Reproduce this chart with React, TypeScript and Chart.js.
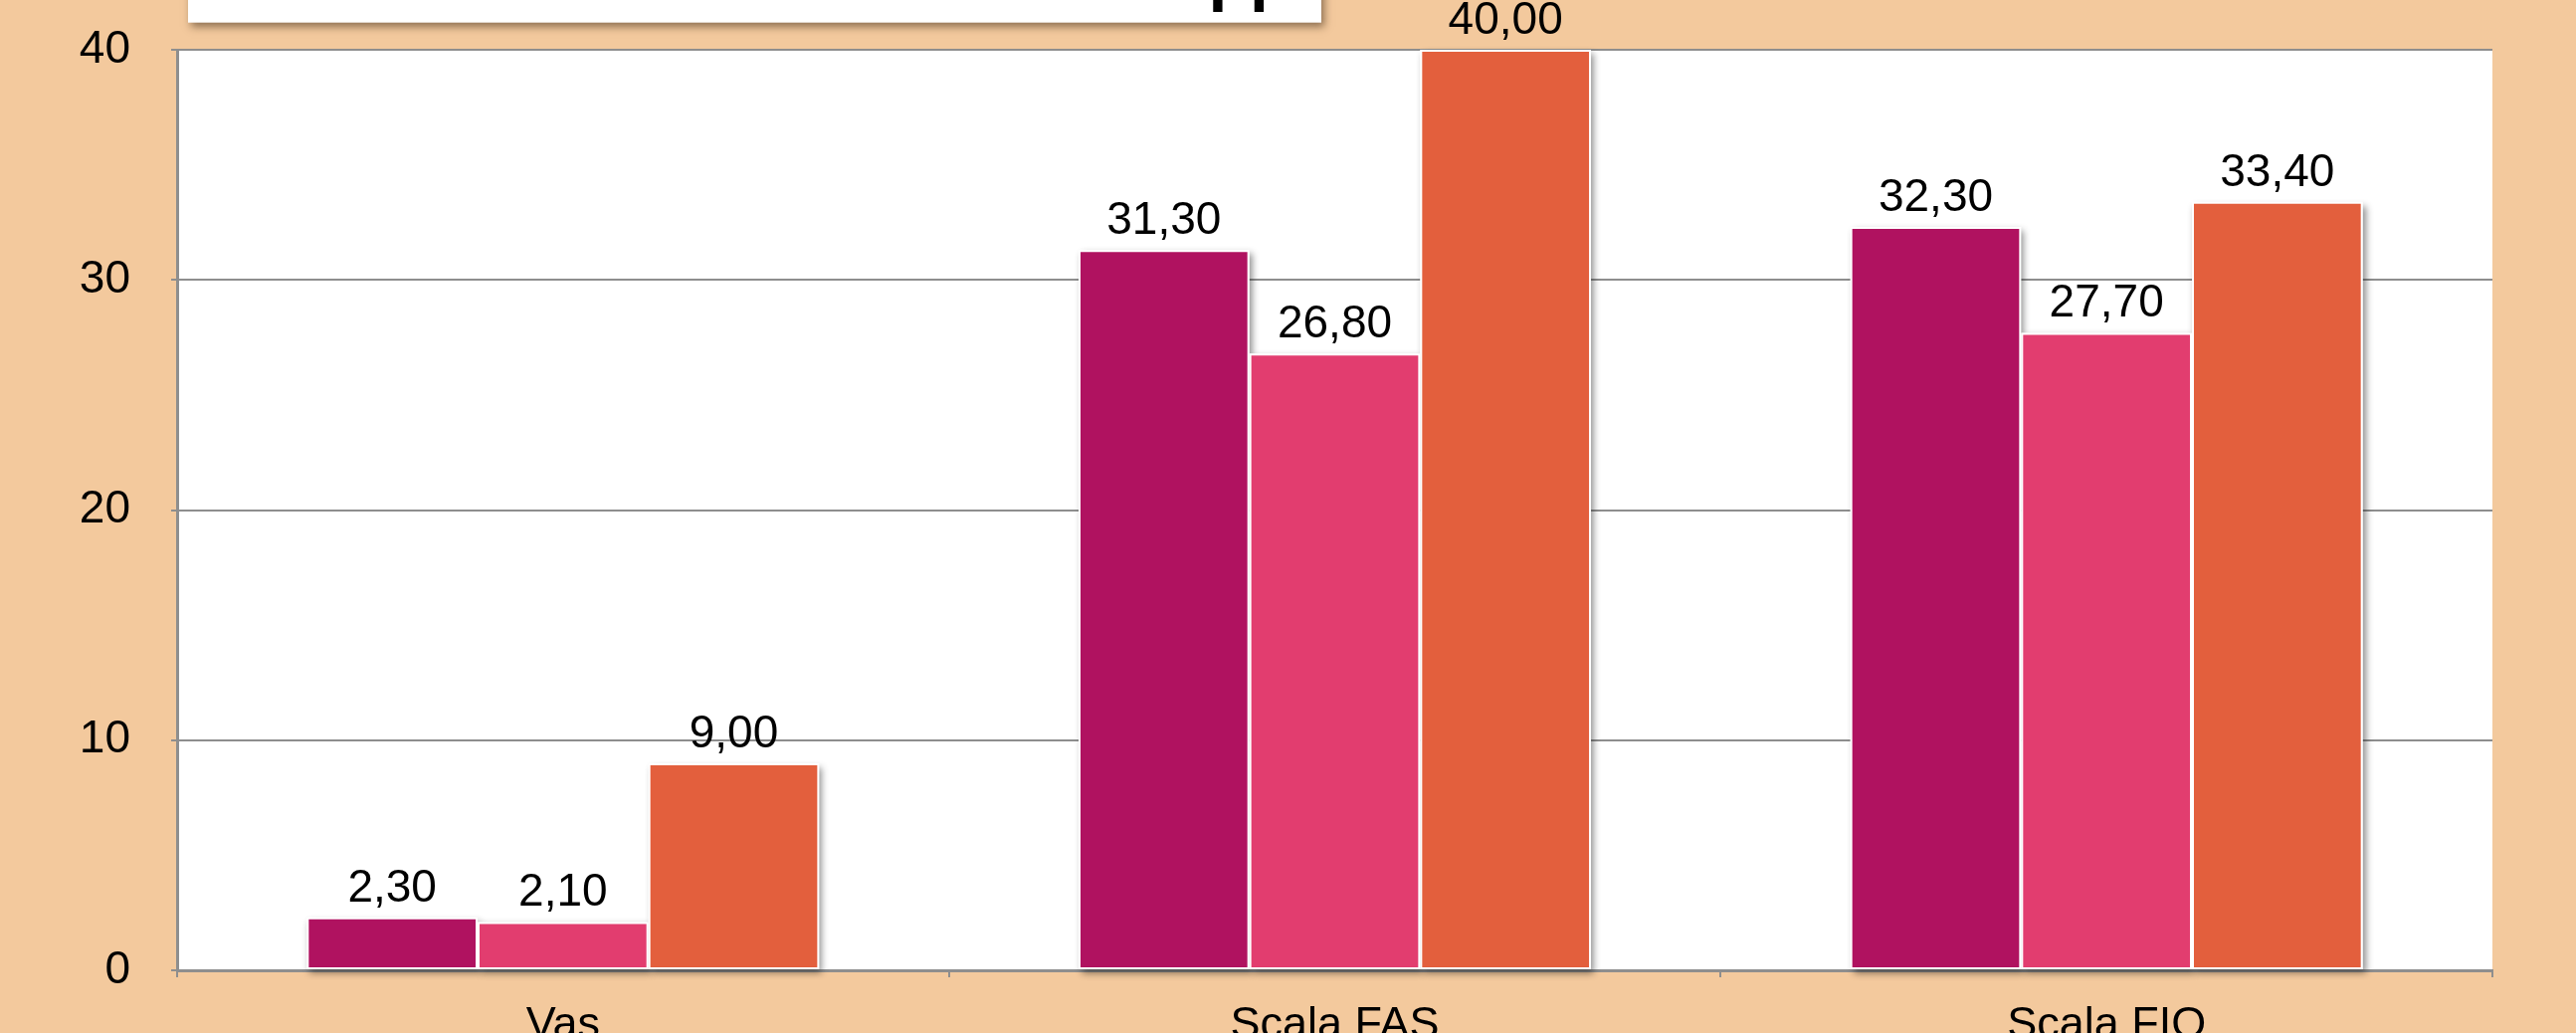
import React, { useEffect, useRef } from "react";
import { Chart, registerables } from "chart.js";

Chart.register(...registerables);

const categories = ["Vas", "Scala FAS", "Scala FIO"];
const series1 = [2.3, 31.3, 32.3];
const series2 = [2.1, 26.8, 27.7];
const series3 = [9.0, 40.0, 33.4];
const seriesNames = ["Serie 1", "Serie 2", "Serie 3"];
const seriesColors = ["#B01260", "#E23D6F", "#E35F3D"];
const yMin = 0;
const yMax = 40;
const yStep = 10;
const titleText = "Valutazione dello sviluppo";

const PEACH = "#F3C99D";
const GRID = "#8E8E8E";
const FONT = "'Liberation Sans', Arial, Helvetica, sans-serif";

// target plot area inside the 2589 x 1038 picture
const AREA = { left: 178, top: 50, right: 2505, bottom: 975 };
const CANVAS_W = 2589;
const CANVAS_H = 1100;

const fmt = (v: number) => v.toFixed(2).replace(".", ",");

const backgroundPlugin = {
  id: "bgAndTitle",
  beforeDraw(chart: any) {
    const { ctx, chartArea, width, height } = chart;
    ctx.save();
    ctx.fillStyle = PEACH;
    ctx.fillRect(0, 0, width, height);
    ctx.fillStyle = "#FFFFFF";
    ctx.fillRect(chartArea.left, chartArea.top, chartArea.right - chartArea.left, chartArea.bottom - chartArea.top);
    // title box (mostly above the visible area)
    ctx.save();
    ctx.shadowColor = "rgba(60,40,20,0.55)";
    ctx.shadowBlur = 8;
    ctx.shadowOffsetX = 3;
    ctx.shadowOffsetY = 4;
    ctx.fillStyle = "#FFFFFF";
    ctx.fillRect(189, -120, 1139, 142.7);
    ctx.restore();
    ctx.fillStyle = "#000000";
    ctx.font = "bold 68px " + FONT;
    ctx.textBaseline = "alphabetic";
    ctx.textAlign = "left";
    const prefix = titleText.slice(0, titleText.indexOf("pp"));
    const w = ctx.measureText(prefix).width;
    ctx.fillText(titleText, 1214.5 - w, -2);
    ctx.restore();
  },
};

const barDecorPlugin = {
  id: "barDecor",
  beforeDatasetsDraw(chart: any) {
    const { ctx } = chart;
    ctx.save();
    ctx.shadowColor = "rgba(0,0,0,0.45)";
    ctx.shadowBlur = 7;
    ctx.shadowOffsetX = 3;
    ctx.shadowOffsetY = 4;
    ctx.fillStyle = "#FFFFFF";
    chart.data.datasets.forEach((_: any, di: number) => {
      const meta = chart.getDatasetMeta(di);
      meta.data.forEach((bar: any) => {
        const p = bar.getProps(["x", "y", "base", "width"], true);
        ctx.fillRect(p.x - p.width / 2, p.y, p.width, p.base - p.y);
      });
    });
    ctx.restore();
  },
  afterDatasetsDraw(chart: any) {
    const { ctx } = chart;
    ctx.save();
    ctx.fillStyle = "#000000";
    ctx.font = "46px " + FONT;
    ctx.textAlign = "center";
    ctx.textBaseline = "alphabetic";
    chart.data.datasets.forEach((ds: any, di: number) => {
      const meta = chart.getDatasetMeta(di);
      meta.data.forEach((bar: any, i: number) => {
        const p = bar.getProps(["x", "y"], true);
        ctx.fillText(fmt(ds.data[i]), p.x, p.y - 16);
      });
    });
    ctx.restore();
  },
};

export default function App() {
  const ref = useRef<HTMLCanvasElement | null>(null);

  useEffect(() => {
    document.body.style.margin = "0";
    const canvas = ref.current;
    if (!canvas) return;
    const allSeries = [series1, series2, series3];
    const chart = new Chart(canvas, {
      type: "bar",
      data: {
        labels: categories,
        datasets: allSeries.map((d, i) => ({
          label: seriesNames[i],
          data: d,
          backgroundColor: seriesColors[i],
          borderColor: "#FFFFFF",
          borderWidth: 2,
          borderSkipped: false,
          categoryPercentage: 0.664,
          barPercentage: 1.0,
        })),
      },
      options: {
        responsive: false,
        animation: false,
        devicePixelRatio: 1,
        layout: { padding: { top: AREA.top, right: CANVAS_W - AREA.right, left: 0, bottom: 0 } },
        plugins: {
          legend: { display: false },
          title: { display: false },
          tooltip: { enabled: false },
        },
        scales: {
          x: {
            offset: true,
            grid: {
              display: true,
              drawOnChartArea: false,
              drawTicks: true,
              tickLength: 7,
              color: GRID,
              lineWidth: 2,
              offset: true,
            },
            border: { display: true, color: GRID, width: 3 },
            ticks: {
              color: "#000000",
              font: { family: FONT, size: 45 },
              padding: 22,
            },
            afterFit(scale: any) {
              scale.height = CANVAS_H - AREA.bottom;
              scale.paddingLeft = 0;
              scale.paddingRight = 0;
            },
          },
          y: {
            min: yMin,
            max: yMax,
            ticks: {
              stepSize: yStep,
              color: "#000000",
              font: { family: FONT, size: 46 },
              padding: 41,
            },
            grid: {
              color: GRID,
              lineWidth: 2,
              tickLength: 6,
              drawTicks: true,
            },
            border: { display: true, color: GRID, width: 3 },
            afterFit(scale: any) {
              scale.width = AREA.left;
              scale.paddingTop = 0;
              scale.paddingBottom = 0;
            },
          },
        },
      },
      plugins: [backgroundPlugin, barDecorPlugin],
    });
    return () => chart.destroy();
  }, []);

  return (
    <div
      style={{
        position: "fixed",
        left: 0,
        top: 0,
        width: CANVAS_W,
        height: 1038,
        overflow: "hidden",
        background: PEACH,
      }}
    >
      <canvas ref={ref} width={CANVAS_W} height={CANVAS_H} style={{ display: "block" }} />
    </div>
  );
}
